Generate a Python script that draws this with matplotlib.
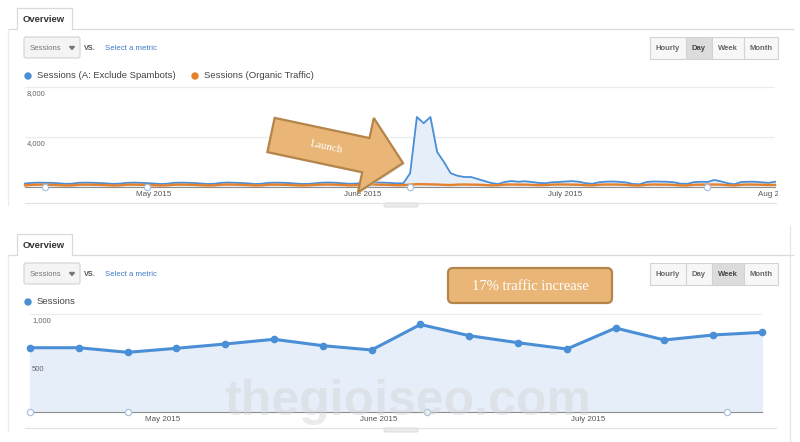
import matplotlib
matplotlib.use('Agg')
import matplotlib.pyplot as plt
from matplotlib.patches import Rectangle, FancyBboxPatch, Polygon, Circle
from matplotlib.transforms import Bbox, TransformedBbox
import numpy as np
import pandas as pd

plt.rcParams['font.family'] = ['Liberation Sans', 'DejaVu Sans']

# ---- top chart: daily sessions 12 Apr - 1 Aug 2015
day_start, day_end = '2015-04-12', '2015-08-01'
spambots = [280, 330, 350, 340, 330, 300, 250, 270, 340, 350, 340, 320, 290, 250, 270, 330, 350, 340, 310,
            280, 240, 260, 330, 350, 340, 320, 280, 240, 260, 330, 360, 340, 320, 290, 240, 260, 330, 350, 340,
            320, 280, 240, 250, 300, 350, 360, 340, 300, 260, 270,
            350, 370, 360, 350, 330, 290, 300, 1100, 5600, 5100, 5600, 2800, 2000, 1100, 900, 800, 800, 640,
            480, 320, 240, 400, 480, 420, 460, 400, 330, 300, 380, 400,
            440, 470, 420, 300, 260, 380, 430, 440, 410, 360, 240, 220, 400, 440, 430, 420, 380, 270, 250, 390,
            420, 400, 560, 450, 300, 220, 400, 420, 420, 380, 330,
            420]
organic = [130, 170, 190, 180, 170, 150, 120, 130, 180, 190, 180, 170, 150, 120, 130, 180, 190, 180, 160,
           140, 120, 130, 180, 190, 180, 170, 140, 120, 130, 180, 200, 190, 170, 150, 120, 130, 180, 190, 180,
           170, 140, 120, 130, 170, 190, 200, 180, 160, 130, 140,
           190, 200, 190, 180, 170, 140, 150, 190, 230, 220, 210, 200, 170, 160, 190, 200, 190, 180, 160, 130,
           140, 190, 200, 190, 190, 170, 140, 150, 190, 200,
           200, 190, 180, 140, 130, 180, 200, 200, 190, 170, 130, 120, 180, 200, 190, 190, 170, 130, 120, 180,
           190, 190, 200, 190, 150, 120, 180, 200, 190, 180, 160,
           170]
day_notes = ['2015-04-15', '2015-04-30', '2015-06-08', '2015-07-22']
day_ticks = ['2015-05-01', '2015-06-01', '2015-07-01', '2015-08-01']
day_ticklabels = ['May 2015', 'June 2015', 'July 2015', 'Aug 2015']
day_yticks = [4000, 8000]

# ---- bottom chart: weekly sessions
week_start = '2015-04-12'
weekly = [656, 656, 609, 650, 694, 742, 677, 633, 893, 779, 707, 643, 857, 735, 786, 813]
week_notes = ['2015-04-12', '2015-04-26', '2015-06-08', '2015-07-21']
week_ticks = ['2015-05-01', '2015-06-01', '2015-07-01']
week_ticklabels = ['May 2015', 'June 2015', 'July 2015']
week_yticks = [500, 1000]

BLUE = '#4a8fd6'
ORANGE = '#e5802c'
FILL = '#e6eff9'
TAN = '#e9b677'
TAN_EDGE = '#b5844a'

W, H = 800, 442
fig = plt.figure(figsize=(W / 100, H / 100), dpi=100)


def rect(x0, y0, x1, y1):
    return [x0 / W, 1 - y1 / H, (x1 - x0) / W, (y1 - y0) / H]


def style_chart(ax, yticks, ticks, ticklabels):
    for s in ['top', 'left', 'right']:
        ax.spines[s].set_visible(False)
    ax.spines['bottom'].set_color('#8c8c8c')
    ax.spines['bottom'].set_linewidth(0.8)
    ax.set_yticks(yticks)
    ax.set_yticklabels([])
    ax.tick_params(axis='y', length=0)
    ax.grid(axis='y', color='#ececec', lw=0.9)
    ax.set_axisbelow(True)
    for v in yticks:
        ax.annotate(f'{v:,}', (0, v), xycoords=('axes fraction', 'data'), xytext=(2, -3),
                    textcoords='offset pixels', va='top', ha='left', fontsize=5.5, color='#666')
    ax.set_xticks(pd.to_datetime(ticks))
    ax.set_xticklabels(ticklabels, fontsize=5.8, color='#555')
    ax.tick_params(axis='x', length=0, pad=3)
    ax.patch.set_visible(False)


# top chart
days = pd.date_range(day_start, day_end)
ax1 = fig.add_axes(rect(25, 80, 775, 187))
ax1.fill_between(days, spambots, color=FILL, zorder=1)
ax1.plot(days, spambots, color=BLUE, lw=1.3, zorder=3, clip_on=False)
ax1.plot(days, organic, color=ORANGE, lw=1.7, zorder=4, clip_on=False)
ax1.plot(pd.to_datetime(day_notes), [0] * len(day_notes), 'o', ms=4.5, mfc='white', mec='#a9c3de',
         mew=0.9, clip_on=False, zorder=6)
ax1.set_xlim(days[0], days[-1])
ax1.set_ylim(0, 8560)
style_chart(ax1, day_yticks, day_ticks, day_ticklabels)
clip = TransformedBbox(Bbox([[0, 0], [778 / W, 1]]), fig.transFigure)
for lbl in ax1.get_xticklabels():
    lbl.set_clip_on(True)
    lbl.set_clip_box(clip)

# bottom chart
weeks = pd.date_range(week_start, periods=len(weekly), freq='7D')
ax2 = fig.add_axes(rect(30, 305, 762, 412))
ax2.fill_between(weeks, weekly, color=FILL, zorder=1)
ax2.plot(weeks, weekly, color=BLUE, lw=2.2, marker='o', ms=4.5, zorder=3, clip_on=False)
ax2.plot(pd.to_datetime(week_notes), [0] * len(week_notes), 'o', ms=4.5, mfc='white', mec='#a9c3de',
         mew=0.9, clip_on=False, zorder=6)
ax2.set_xlim(weeks[0], weeks[-1])
ax2.set_ylim(0, 1092)
style_chart(ax2, week_yticks, week_ticks, week_ticklabels)

# overlay in pixel coordinates
bg = fig.add_axes([0, 0, 1, 1])
bg.set_xlim(0, W)
bg.set_ylim(H, 0)
bg.axis('off')
bg.set_zorder(10)
bg.patch.set_visible(False)


def panel(y0, selected, legend):
    line = '#d9d9d9'
    # tab
    bg.plot([8, 17, 17, 72, 72, 793], [y0 + 21, y0 + 21, y0, y0, y0 + 21, y0 + 21], color=line, lw=0.9)
    bg.text(23, y0 + 11, 'Overview', fontsize=6.8, fontweight='bold', color='#333', va='center')
    bg.plot([8, 8], [y0 + 21, y0 + 197], color='#ececec', lw=0.9)
    # metric selector
    bg.add_patch(FancyBboxPatch((24, y0 + 29), 56, 21, boxstyle='round,pad=0,rounding_size=2',
                                fc='#f4f4f4', ec='#d2d2d2', lw=0.8))
    bg.text(30, y0 + 40, 'Sessions', fontsize=5.6, color='#777', va='center')
    bg.add_patch(Polygon([[69.5, y0 + 38.5], [74.5, y0 + 38.5], [72, y0 + 41.5]], color='#777'))
    bg.text(84, y0 + 40, 'VS.', fontsize=5.2, fontweight='bold', color='#555', va='center')
    bg.text(105, y0 + 40, 'Select a metric', fontsize=5.6, color='#3d7bc8', va='center')
    # granularity buttons
    edges = [650, 686, 712, 744, 778]
    for i, name in enumerate(['Hourly', 'Day', 'Week', 'Month']):
        fc = '#dcdcdc' if name == selected else '#f7f7f7'
        bg.add_patch(Rectangle((edges[i], y0 + 29), edges[i + 1] - edges[i], 22, fc=fc, ec='#d3d3d3', lw=0.8))
        bg.text((edges[i] + edges[i + 1]) / 2, y0 + 40, name, fontsize=5.5, fontweight='bold',
                color='#444' if name == selected else '#666', ha='center', va='center')
    # legend
    x = 28
    for name, col in legend:
        bg.add_patch(Circle((x, y0 + 68), 3, color=col))
        t = bg.text(x + 9, y0 + 68, name, fontsize=6.8, color='#444', va='center')
        x += 167


panel(8, 'Day', [('Sessions (A: Exclude Spambots)', BLUE), ('Sessions (Organic Traffic)', ORANGE)])
panel(234, 'Week', [('Sessions', BLUE)])
bg.plot([790, 790], [226, 442], color='#e6e6e6', lw=0.9)

# bottom separators with drag handles
for y in [203, 428]:
    bg.plot([25, 776], [y, y], color='#e3e3e3', lw=0.9)
    bg.add_patch(FancyBboxPatch((384, y), 34, 4, boxstyle='round,pad=0,rounding_size=1.5',
                                fc='#ececec', ec='#d6d6d6', lw=0.6))

# Launch arrow
theta = np.deg2rad(12)
tail = np.array([271, 135])
length, head_len, shaft_hw, head_hw = 135, 38, 17.5, 38
shape = np.array([[0, -shaft_hw], [length - head_len, -shaft_hw], [length - head_len, -head_hw],
                  [length, 0], [length - head_len, head_hw], [length - head_len, shaft_hw], [0, shaft_hw]])
rot = np.array([[np.cos(theta), -np.sin(theta)], [np.sin(theta), np.cos(theta)]])
pts = shape @ rot.T + tail
bg.add_patch(Polygon(pts + [1.5, 1.5], closed=True, fc='#cfcfcf', ec='none', alpha=0.5))
bg.add_patch(Polygon(pts, closed=True, fc=TAN, ec=TAN_EDGE, lw=1.6, joinstyle='miter'))
bg.text(326, 147, 'Launch', fontsize=8, color='white', family=['Liberation Serif', 'DejaVu Serif'],
        rotation=-12, rotation_mode='anchor', ha='center', va='center')

# traffic increase box
bg.add_patch(FancyBboxPatch((448, 268), 164, 35, boxstyle='round,pad=0,rounding_size=5',
                            fc=TAN, ec=TAN_EDGE, lw=1.6))
bg.text(530, 286, '17% traffic increase', fontsize=10.5, color='white',
        family=['Liberation Serif', 'DejaVu Serif'], ha='center', va='center')

# watermark
bg.text(408, 402, 'thegioiseo.com', fontsize=36, fontweight='bold', color='#d4d4d4', alpha=0.45,
        ha='center', va='center')

fig.savefig('out.png', dpi=100)
